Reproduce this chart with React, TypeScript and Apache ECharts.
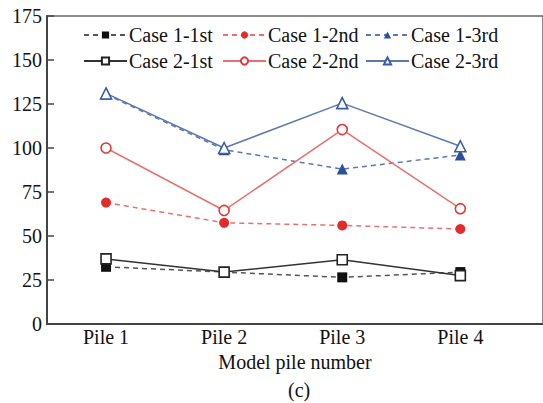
import React, { useEffect, useRef } from "react";
import * as echarts from "echarts";

const categories = ["Pile 1", "Pile 2", "Pile 3", "Pile 4"];
const case1First = [32.5, 29.5, 26.5, 29.5];
const case1Second = [69, 57.5, 56, 54];
const case1Third = [130.5, 99, 88, 96];
const case2First = [37, 29.5, 36.5, 27.5];
const case2Second = [100, 64.5, 110.5, 65.5];
const case2Third = [131, 100, 125.5, 101];
const yTicks = [0, 25, 50, 75, 100, 125, 150, 175];

const FONT = "'Liberation Serif', 'Times New Roman', serif";

const toPairs = (arr: number[]) => arr.map((v, i) => [i, v]);

export default function App() {
  const ref = useRef<HTMLDivElement>(null);
  useEffect(() => {
    if (!ref.current) return;
    const chart = echarts.init(ref.current, undefined, { renderer: "svg" });

    const mk = (
      name: string,
      data: number[],
      symbol: string,
      size: number,
      lineColor: string,
      markColor: string,
      dashed: boolean,
      open: boolean
    ) => ({
      name,
      type: "line",
      data: toPairs(data),
      symbol,
      symbolSize: size,
      lineStyle: { color: lineColor, width: 1.5, type: dashed ? [5, 4] : "solid" },
      itemStyle: open
        ? { color: "#fff", borderColor: markColor, borderWidth: 1.6 }
        : { color: markColor, borderColor: markColor, borderWidth: 0 },
      z: open ? 3 : 2,
    });

    const series = [
      mk("Case 1-1st", case1First, "rect", 10, "#555", "#111", true, false),
      mk("Case 1-2nd", case1Second, "circle", 10, "#e77070", "#e42a2a", true, false),
      mk("Case 1-3rd", case1Third, "triangle", 11, "#5d78b0", "#2a4f9e", true, false),
      mk("Case 2-1st", case2First, "rect", 10, "#333", "#222", false, true),
      mk("Case 2-2nd", case2Second, "circle", 10, "#e77070", "#e03a3a", false, true),
      mk("Case 2-3rd", case2Third, "triangle", 11, "#5d78b0", "#3a5ca6", false, true),
    ];

    const legendPos = [
      { name: "Case 1-1st", left: 83, top: 25 },
      { name: "Case 1-2nd", left: 222, top: 25 },
      { name: "Case 1-3rd", left: 365, top: 25 },
      { name: "Case 2-1st", left: 83, top: 51 },
      { name: "Case 2-2nd", left: 222, top: 51 },
      { name: "Case 2-3rd", left: 365, top: 51 },
    ];

    chart.setOption({
      animation: false,
      backgroundColor: "#fff",
      grid: {
        left: 47,
        top: 16,
        width: 508,
        height: 308,
        show: true,
        borderColor: "#666",
        borderWidth: 1.5,
        backgroundColor: "transparent",
      },
      legend: legendPos.map((l) => ({
        data: [l.name],
        left: l.left,
        top: l.top,
        padding: 0,
        itemWidth: 43,
        itemHeight: 9,
        itemGap: 0,
        textStyle: { fontSize: 20, fontFamily: FONT, color: "#111", padding: [0, 0, 0, -3] },
      })),
      xAxis: {
        type: "value",
        min: -0.5,
        max: 3.7,
        interval: 0.5,
        name: "Model pile number",
        nameLocation: "middle",
        nameGap: 28,
        nameTextStyle: { fontSize: 20, fontFamily: FONT, color: "#111" },
        axisLine: { show: true, onZero: false, lineStyle: { color: "#444", width: 2 } },
        axisTick: { show: false },
        splitLine: { show: false },
        axisLabel: {
          fontSize: 20,
          fontFamily: FONT,
          color: "#111",
          margin: 3,
          showMaxLabel: false,
          showMinLabel: false,
          formatter: (v: number) =>
            Number.isInteger(v) && v >= 0 && v < categories.length ? categories[v] : "",
        },
      },
      yAxis: {
        type: "value",
        min: yTicks[0],
        max: yTicks[yTicks.length - 1],
        interval: 25,
        axisLine: { show: true, onZero: false, lineStyle: { color: "#444", width: 2 } },
        axisTick: { show: true, inside: true, length: 7, lineStyle: { color: "#444", width: 1.5 } },
        splitLine: { show: false },
        axisLabel: { fontSize: 20, fontFamily: FONT, color: "#111", margin: 5 },
      },
      graphic: [
        {
          type: "text",
          left: 288,
          top: 380,
          style: { text: "(c)", fontSize: 20, fontFamily: FONT, fill: "#111" },
        },
      ],
      series,
    });
    return () => chart.dispose();
  }, []);
  return (
    <div
      ref={ref}
      style={{ position: "fixed", left: 0, top: 0, width: 543, height: 403 }}
    />
  );
}
